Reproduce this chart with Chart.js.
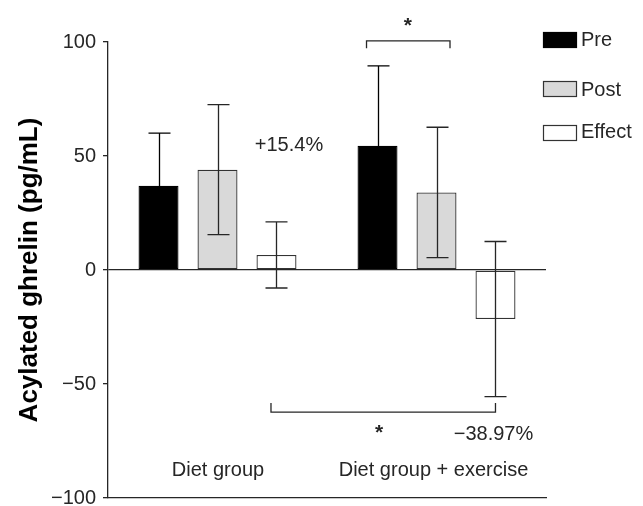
<!DOCTYPE html>
<html>
<head>
<meta charset="utf-8">
<script src="https://cdn.jsdelivr.net/npm/chart.js@4/dist/chart.umd.min.js"></script>
<style>
  html, body { margin: 0; padding: 0; background: #fff; }
  #wrap { width: 643px; height: 506px; position: relative; }
</style>
</head>
<body>
<div id="wrap"><canvas id="c"></canvas></div>
<script>
// ---- data ----
const categories = ["Diet group", "Diet group + exercise"];
const seriesNames = ["Pre", "Post", "Effect"];
const preValues = [37, 54.5];
const postValues = [44, 34];
const effectValues = [6.6, -21.5];
const preErrors = [23, 35];
const postErrors = [28.5, 28.6];
const effectErrors = [14.5, 34];
const yTicks = [-100, -50, 0, 50, 100];
const effectLabels = ["+15.4%", "\u221238.97%"];
const yTitle = "Acylated ghrelin (pg/mL)";

const FONT = "'Liberation Sans', Arial, Helvetica, sans-serif";
const INK = '#262626';

const fills = ['#000000', '#d9d9d9', '#ffffff'];
const borders = ['#000000', '#333333', '#333333'];
const errs = [preErrors, postErrors, effectErrors];

function fmt(v) { return v < 0 ? '\u2212' + Math.abs(v) : String(v); }

const overlay = {
  id: 'overlay',
  afterDatasetsDraw(chart) {
    const ctx = chart.ctx;
    const ys = chart.scales.y;
    const xs = chart.scales.x;
    ctx.save();
    // error bars
    ctx.lineWidth = 1.3;
    chart.data.datasets.forEach((ds, di) => {
      const meta = chart.getDatasetMeta(di);
      meta.data.forEach((bar, i) => {
        const v = ds.data[i], e = errs[di][i];
        const x = Math.round(bar.x) + 0.5;
        const yt = ys.getPixelForValue(v + e);
        const yb = ys.getPixelForValue(v - e);
        ctx.strokeStyle = di === 0 ? '#000' : INK;
        ctx.beginPath();
        ctx.moveTo(x, yt); ctx.lineTo(x, yb);
        ctx.moveTo(x - 11, yt); ctx.lineTo(x + 11, yt);
        ctx.moveTo(x - 11, yb); ctx.lineTo(x + 11, yb);
        ctx.stroke();
      });
    });
    const preMeta = chart.getDatasetMeta(0);
    const postMeta = chart.getDatasetMeta(1);
    const effMeta = chart.getDatasetMeta(2);
    ctx.strokeStyle = INK;
    ctx.lineWidth = 1.3;
    // top bracket (exercise Pre vs Post)
    {
      const x1 = preMeta.data[1].x - 11, x2 = postMeta.data[1].x + 13.5;
      const yb = ys.getPixelForValue(100.5), yt = ys.getPixelForValue(97.3);
      ctx.beginPath();
      ctx.moveTo(x1, yt); ctx.lineTo(x1, yb); ctx.lineTo(x2, yb); ctx.lineTo(x2, yt);
      ctx.stroke();
      ctx.fillStyle = INK;
      ctx.font = 'bold 21px ' + FONT;
      ctx.textAlign = 'center';
      ctx.textBaseline = 'alphabetic';
      ctx.fillText('*', (x1 + x2) / 2 - 0.5, ys.getPixelForValue(104.4));
    }
    // bottom bracket (Effect vs Effect)
    {
      const x1 = effMeta.data[0].x - 5.5, x2 = effMeta.data[1].x;
      const yb = ys.getPixelForValue(-62.3), yt = ys.getPixelForValue(-58.3);
      ctx.beginPath();
      ctx.moveTo(x1, yt); ctx.lineTo(x1, yb); ctx.lineTo(x2, yb); ctx.lineTo(x2, yt);
      ctx.stroke();
      ctx.fillStyle = INK;
      ctx.font = 'bold 21px ' + FONT;
      ctx.textAlign = 'center';
      ctx.fillText('*', 379, ys.getPixelForValue(-74.1));
    }
    // effect percentage labels
    ctx.font = '20px ' + FONT;
    ctx.fillStyle = INK;
    ctx.textAlign = 'center';
    ctx.textBaseline = 'alphabetic';
    ctx.fillText(effectLabels[0], effMeta.data[0].x + 12.5, ys.getPixelForValue(52.2));
    ctx.fillText(effectLabels[1], effMeta.data[1].x - 2, ys.getPixelForValue(-74.5));
    // category labels
    categories.forEach((c, i) => {
      ctx.fillText(c, xs.getPixelForValue(i) + (i === 0 ? 0.5 : -3), ys.getPixelForValue(-90.3));
    });
    // legend
    const lx = 543, lw = 34, lh = 16;
    const rows = [{ top: 32, base: 46 }, { top: 81, base: 96 }, { top: 125, base: 138 }];
    seriesNames.forEach((n, i) => {
      ctx.fillStyle = fills[i];
      ctx.fillRect(lx, rows[i].top, lw, lh);
      ctx.strokeStyle = borders[i];
      ctx.lineWidth = 1.2;
      ctx.strokeRect(lx + 0.5, rows[i].top + 0.5, lw - 1, lh - 1);
      ctx.fillStyle = INK;
      ctx.textAlign = 'left';
      ctx.font = '20px ' + FONT;
      ctx.fillText(n, 581, rows[i].base);
    });
    ctx.restore();
  }
};

const values = [preValues, postValues, effectValues];

new Chart(document.getElementById('c'), {
  type: 'bar',
  data: {
    labels: categories,
    datasets: seriesNames.map((n, i) => ({
      label: n,
      data: values[i],
      backgroundColor: fills[i],
      borderColor: borders[i],
      borderWidth: 1.3,
      borderSkipped: false,
      categoryPercentage: 0.808,
      barPercentage: 0.678
    }))
  },
  options: {
    responsive: true,
    maintainAspectRatio: false,
    animation: false,
    devicePixelRatio: 1,
    layout: { padding: { top: 42, right: 97, bottom: 8, left: 0 } },
    plugins: { legend: { display: false }, tooltip: { enabled: false } },
    scales: {
      x: {
        grid: { display: false, drawTicks: false },
        border: { display: true, color: INK, width: 1.3 },
        ticks: { display: false },
        afterFit(s) { s.height = 0; s.paddingLeft = 0; s.paddingRight = 0; }
      },
      y: {
        min: -100,
        max: 100,
        afterBuildTicks(s) { s.ticks = yTicks.map(v => ({ value: v })); },
        afterFit(s) { s.width = 108; s.paddingTop = 0; s.paddingBottom = 0; },
        grid: {
          drawTicks: true,
          tickLength: 5,
          tickColor: INK,
          tickWidth: 1.3,
          lineWidth: 1.3,
          color: (c) => (c.tick && c.tick.value === 0) ? INK : 'rgba(0,0,0,0)'
        },
        border: { display: true, color: INK, width: 1.3 },
        ticks: {
          padding: 7,
          color: INK,
          font: { family: FONT, size: 20 },
          callback: (v) => fmt(v)
        },
        title: {
          display: true,
          text: yTitle,
          color: '#000',
          font: { family: FONT, size: 26, weight: 'bold' },
          padding: { top: 14, bottom: 0 }
        }
      }
    }
  },
  plugins: [overlay]
});
</script>
</body>
</html>
